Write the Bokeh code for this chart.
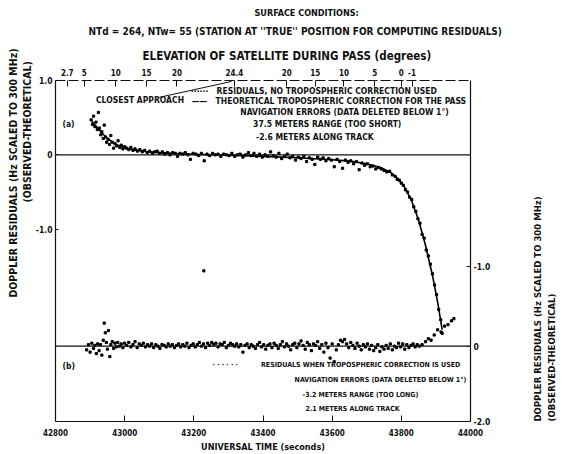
import math
from bokeh.plotting import figure
from bokeh.models import Range1d, LinearAxis, FixedTicker, Label, Span, Arrow, Title
from bokeh.embed import file_html
from bokeh.resources import INLINE

# ---------------- data ----------------
# elevation of satellite (top axis): time (s) -> elevation label
elev_times = [42834, 42883, 42974, 43063, 43151, 43317, 43469, 43551, 43634, 43723, 43800, 43831]
elev_labels = ["2.7", "5", "10", "15", "20", "24.4", "20", "15", "10", "5", "0", "-1"]

x_ticks = [42800, 43000, 43200, 43400, 43600, 43800, 44000]
left_ticks = [1.0, 0.0, -1.0]
left_tick_labels = ["1.0", "0", "-1.0"]
right_ticks = [1.067, 0.0, -1.013]
right_tick_labels = ["-1.0", "0", "-2.0"]

# (a) theoretical tropospheric correction for the pass
curve_t = [42905, 42920, 42935, 42950, 42965, 42980, 43000, 43030, 43060, 43100, 43150, 43200,
           43300, 43400, 43500, 43600, 43650, 43700, 43740, 43770, 43790, 43810, 43830, 43850,
           43870, 43890, 43905, 43918]
curve_v = [0.45, 0.37, 0.29, 0.22, 0.17, 0.13, 0.095, 0.065, 0.045, 0.03, 0.018, 0.008,
           -0.005, -0.02, -0.04, -0.065, -0.085, -0.12, -0.17, -0.24, -0.32, -0.44, -0.62, -0.88,
           -1.22, -1.62, -1.98, -2.35]

# (a) residuals, no tropospheric correction used
a_t = [42903, 42907, 42910, 42914, 42917, 42921, 42924, 42927, 42931, 42934, 42938, 42941, 42945,
       42948, 42952, 42956, 42960, 42964, 42968, 42972, 42977, 42981, 42986, 42990, 42995, 43000,
       43006, 43012, 43018, 43024, 43030, 43037, 43044, 43051, 43058, 43065, 43072, 43080, 43087,
       43094, 43101, 43109, 43116, 43124, 43131, 43139, 43146, 43153, 43160, 43168, 43175, 43183,
       43190, 43198, 43206, 43214, 43222, 43229, 43230, 43238, 43246, 43254, 43262, 43270, 43278,
       43286, 43294, 43302, 43310, 43318, 43326, 43334, 43342, 43350, 43358, 43366, 43374, 43382,
       43390, 43398, 43406, 43414, 43422, 43430, 43438, 43446, 43454, 43462, 43470, 43478, 43486,
       43494, 43502, 43510, 43518, 43526, 43534, 43542, 43550, 43558, 43566, 43574, 43582, 43590,
       43598, 43606, 43614, 43622, 43630, 43638, 43646, 43654, 43662, 43670, 43678, 43686, 43694,
       43702, 43710, 43718, 43726, 43734, 43742, 43750, 43758, 43766, 43774, 43782, 43788, 43794,
       43800, 43806, 43812, 43818, 43824, 43830, 43836, 43842, 43848, 43854, 43860, 43866, 43872,
       43878, 43884, 43890, 43896, 43902, 43908, 43914, 43918]
a_v = [0.47, 0.41, 0.52, 0.38, 0.44, 0.34, 0.57, 0.36, 0.27, 0.31, 0.22, 0.40, 0.24,
       0.17, 0.21, 0.14, 0.26, 0.17, 0.09, 0.15, 0.12, 0.19, 0.10, 0.13, 0.08, 0.11,
       0.09, 0.07, 0.10, 0.06, 0.08, 0.05, 0.07, 0.04, 0.06, 0.03, 0.05, 0.02, 0.04,
       0.05, 0.02, 0.04, 0.01, 0.03, 0.00, 0.03, 0.02, -0.02, 0.02, 0.01, 0.03, 0.00,
       -0.06, 0.02, 0.01, -0.01, 0.02, -1.56, -0.08, 0.01, -0.01, 0.02, 0.00, 0.01, -0.02,
       0.01, 0.00, -0.01, 0.02, -0.02, 0.00, 0.01, -0.03, 0.00, 0.03, -0.01, 0.02, -0.02,
       0.01, -0.03, 0.00, -0.02, 0.04, -0.01, -0.03, 0.02, -0.05, -0.02, 0.01, -0.04, -0.02,
       -0.07, -0.03, -0.05, -0.02, -0.09, -0.04, -0.06, -0.13, -0.03, -0.06, -0.04, -0.08, -0.05,
       -0.07, -0.16, -0.06, -0.09, -0.18, -0.07, -0.10, -0.08, -0.12, -0.09, -0.20, -0.11, -0.14,
       -0.12, -0.16, -0.15, -0.19, -0.17, -0.19, -0.21, -0.23, -0.22, -0.27, -0.29, -0.33, -0.34,
       -0.38, -0.41, -0.47, -0.50, -0.57, -0.60, -0.70, -0.76, -0.86, -0.92, -1.07, -1.12, -1.28,
       -1.36, -1.47, -1.60, -1.75, -1.88, -2.08, -2.22, -2.40]

# (b) residuals when tropospheric correction is used
b_t = [42890, 42895, 42900, 42905, 42910, 42914, 42918, 42922, 42926, 42930, 42934, 42938, 42941,
       42944, 42947, 42950, 42953, 42957, 42960, 42964, 42968, 42972, 42976, 42980, 42985, 42990,
       42995, 43000, 43006, 43012, 43018, 43024, 43030, 43036, 43042, 43048, 43054, 43060, 43066,
       43072, 43078, 43084, 43090, 43096, 43102, 43108, 43114, 43120, 43126, 43132, 43138, 43144,
       43150, 43156, 43162, 43168, 43174, 43180, 43186, 43192, 43198, 43204, 43210, 43216, 43222,
       43228, 43234, 43240, 43246, 43252, 43258, 43264, 43270, 43276, 43282, 43288, 43294, 43300,
       43306, 43312, 43318, 43324, 43330, 43336, 43342, 43348, 43354, 43360, 43366, 43372, 43378,
       43384, 43390, 43396, 43402, 43408, 43414, 43420, 43426, 43432, 43438, 43444, 43450, 43456,
       43462, 43468, 43474, 43480, 43486, 43492, 43498, 43504, 43510, 43516, 43522, 43528, 43534,
       43540, 43546, 43552, 43558, 43564, 43570, 43576, 43582, 43588, 43594, 43600, 43606, 43612,
       43618, 43624, 43630, 43636, 43642, 43648, 43654, 43660, 43666, 43672, 43678, 43684, 43690,
       43696, 43702, 43708, 43714, 43720, 43726, 43732, 43738, 43744, 43750, 43756, 43762, 43768,
       43774, 43780, 43786, 43792, 43798, 43804, 43810, 43816, 43822, 43828, 43834, 43840, 43846,
       43852, 43860, 43870, 43878, 43886, 43895, 43905, 43915, 43925, 43935, 43945, 43952]
b_v = [-0.05, 0.02, -0.08, 0.04, -0.03, 0.01, -0.10, 0.03, -0.06, 0.02, -0.12, 0.08, 0.31,
       0.18, 0.05, -0.04, 0.21, -0.14, 0.02, 0.06, -0.03, 0.04, -0.01, 0.05, 0.00, 0.03,
       -0.02, 0.04, 0.01, 0.05, -0.01, 0.02, 0.06, -0.02, 0.03, 0.01, 0.04, -0.01, 0.02,
       0.00, 0.03, -0.02, 0.02, 0.00, -0.03, 0.02, 0.01, -0.01, 0.03, 0.00, 0.02, -0.02,
       0.01, 0.03, -0.01, 0.02, 0.00, 0.04, -0.02, 0.01, 0.03, -0.01, 0.02, 0.05, 0.00,
       0.03, -0.02, 0.04, 0.01, 0.05, 0.02, 0.04, -0.01, 0.03, 0.02, 0.05, -0.02, 0.01,
       0.04, 0.02, 0.00, 0.03, -0.01, 0.02, -0.08, 0.01, 0.03, -0.02, 0.02, 0.00, -0.03,
       0.02, 0.05, -0.01, 0.02, -0.04, 0.01, 0.03, -0.02, 0.04, 0.01, -0.03, 0.02, 0.06,
       -0.01, 0.03, 0.00, -0.05, 0.02, 0.04, -0.02, 0.03, 0.07, 0.01, -0.04, 0.05, 0.02,
       -0.06, 0.03, 0.01, 0.06, -0.03, 0.02, -0.08, 0.04, -0.02, -0.16, 0.03, -0.21, -0.05,
       0.02, 0.08, 0.06, 0.09, 0.03, -0.02, 0.05, 0.01, -0.03, 0.04, 0.00, -0.05, 0.02,
       -0.01, 0.03, -0.04, 0.01, -0.06, -0.02, 0.02, -0.07, -0.01, -0.04, 0.01, -0.03, 0.03,
       -0.05, 0.00, -0.02, 0.04, -0.01, 0.03, -0.04, 0.02, -0.02, 0.01, 0.03, -0.01, 0.02,
       0.00, 0.02, 0.06, 0.10, 0.08, 0.15, 0.22, 0.19, 0.27, 0.29, 0.34, 0.37]

# ---------------- layout (page pixels) ----------------
W, H = 572, 454
X0, X1 = 42800, 44000
FR_L, FR_R, FR_T, FR_B = 55, 475, 80, 424      # plot frame
ZERO_A, ZERO_B = 155, 348                      # zero lines of panels (a) and (b)
PPU = 75.0                                     # pixels per Hz
PPS = (FR_R - FR_L) / (X1 - X0)

def tx(px):
    return X0 + (px - FR_L) / PPS

def ty(py):
    return (ZERO_A - py) / PPU

FONT = "DejaVu Sans Condensed"
INK = "#111111"

p = figure(width=W, height=H, output_backend="svg", toolbar_location=None,
           x_range=Range1d(X0, X1), y_range=Range1d(ty(FR_B), ty(FR_T)),
           x_axis_location=None, y_axis_location=None,
           min_border_left=FR_L, min_border_right=W - FR_R,
           min_border_top=FR_T, min_border_bottom=H - FR_B)
p.extra_y_ranges = {"b": Range1d((ZERO_B - FR_B) / PPU, (ZERO_B - FR_T) / PPU)}
p.grid.visible = False
p.outline_line_color = None

def style_axis(ax, size="8px"):
    ax.major_label_text_font = FONT
    ax.major_label_text_font_style = "bold"
    ax.major_label_text_font_size = size
    ax.major_label_text_color = INK
    ax.axis_line_color = INK
    ax.major_tick_line_color = INK
    ax.minor_tick_line_color = None
    ax.axis_line_width = 1.2
    ax.axis_label_text_font = FONT
    ax.axis_label_text_font_style = "bold"
    ax.axis_label_text_color = INK

# bottom axis: universal time
xb = LinearAxis(ticker=FixedTicker(ticks=x_ticks), axis_label="UNIVERSAL TIME (seconds)")
style_axis(xb)
xb.major_tick_in = 6
xb.major_tick_out = 0
xb.major_label_standoff = 7
xb.axis_label_standoff = 3
xb.axis_label_text_font_size = "9px"
p.add_layout(xb, "below")

# top axis: elevation
xt = LinearAxis(ticker=FixedTicker(ticks=elev_times),
                major_label_overrides={t: s for t, s in zip(elev_times, elev_labels)})
style_axis(xt)
xt.major_tick_in = 6
xt.major_tick_out = 0
xt.major_label_standoff = 5
xt.axis_line_dash = "10 3"
xt.axis_line_width = 1
p.add_layout(xt, "above")

def title(text, side, size, offset, standoff, valign="bottom"):
    p.add_layout(Title(text=text, align="left", offset=offset, standoff=standoff,
                       vertical_align=valign, text_font=FONT, text_font_style="bold",
                       text_font_size=size, text_color=INK), side)

title("ELEVATION OF SATELLITE DURING PASS (degrees)", "above", "11.5px", 87, 6)
title("NTd = 264, NTw= 55 (STATION AT ''TRUE'' POSITION FOR COMPUTING RESIDUALS)", "above", "10px", 33, 13)
title("SURFACE CONDITIONS:", "above", "9px", 199, 0)

# left axis: panel (a)
yl = LinearAxis(ticker=FixedTicker(ticks=left_ticks),
                major_label_overrides={t: s for t, s in zip(left_ticks, left_tick_labels)})
style_axis(yl, "8.5px")
yl.major_tick_in = 3
yl.major_tick_out = 0
yl.major_label_standoff = 3
p.add_layout(yl, "left")
title("(OBSERVED-THEORETICAL)", "left", "10.5px", 219, 0)
title("DOPPLER RESIDUALS (Hz SCALED TO 300 MHz)", "left", "10.5px", 124, 0)

# right axis: panel (b)
yr = LinearAxis(y_range_name="b", ticker=FixedTicker(ticks=right_ticks),
                major_label_overrides={t: s for t, s in zip(right_ticks, right_tick_labels)},
                axis_label="DOPPLER RESIDUALS (Hz SCALED TO 300 MHz)\n(OBSERVED-THEORETICAL)")
style_axis(yr, "8.5px")
yr.major_tick_in = 4
yr.major_tick_out = 0
yr.major_label_standoff = 3
yr.axis_label_standoff = 51
yr.axis_label_orientation = math.pi / 2
yr.axis_label_align = "start"
yr.axis_label_text_font_size = "9.5px"
yr.axis_label_text_line_height = 1.3
p.add_layout(yr, "right")

# zero lines
p.add_layout(Span(location=0, dimension="width", line_color=INK, line_width=1.2))
p.add_layout(Span(location=0, dimension="width", y_range_name="b", line_color=INK, line_width=1.4))

# data
p.line(curve_t, curve_v, line_color="black", line_width=1.6)
p.scatter(a_t, a_v, marker="square", size=2.2, color="black")
p.scatter(b_t, b_v, marker="square", size=2.2, color="black", y_range_name="b")

def lab(text, px, py, size="8.5px", align="left"):
    p.add_layout(Label(x=tx(px), y=ty(py), text=text, text_font=FONT, text_font_style="bold",
                       text_font_size=size, text_align=align, text_baseline="middle",
                       text_color=INK))

# panel (a) annotations
lab("CLOSEST APPROACH", 96, 100)
p.add_layout(Arrow(x_start=tx(160), y_start=ty(97), x_end=tx(233), y_end=ty(81), end=None,
                   line_color=INK, line_width=1))
lab("······", 192, 91)
lab("RESIDUALS, NO TROPOSPHERIC CORRECTION USED", 218, 91)
lab("——", 193, 101)
lab("THEORETICAL TROPOSPHERIC CORRECTION FOR THE PASS", 217, 101)
lab("NAVIGATION ERRORS (DATA DELETED BELOW 1°)", 242, 112)
lab("37.5 METERS RANGE (TOO SHORT)", 255, 124)
lab("-2.6 METERS ALONG TRACK", 258, 137)
lab("(a)", 62, 124)

# panel (b) annotations
lab("(b)", 62, 368)
lab("· · · · · ·", 214, 367, "7px")
lab("RESIDUALS WHEN TROPOSPHERIC CORRECTION IS USED", 263, 367, "7px")
lab("NAVIGATION ERRORS (DATA DELETED BELOW 1°)", 297, 382, "7px")
lab("-3.2 METERS RANGE (TOO LONG)", 305, 397, "7px")
lab("2.1 METERS ALONG TRACK", 308, 411, "7px")

open("out.html", "w").write(file_html(p, INLINE))
